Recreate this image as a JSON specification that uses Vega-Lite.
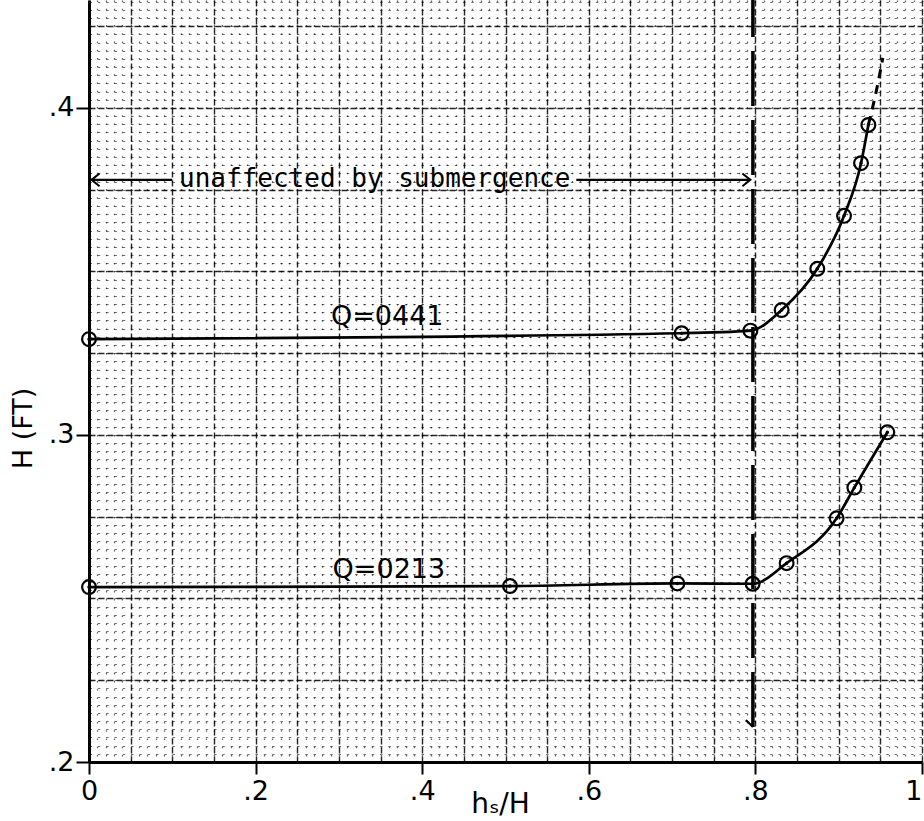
{
  "$schema": "https://vega.github.io/schema/vega-lite/v6.json",
  "width": 833,
  "height": 762,
  "autosize": "none",
  "padding": {"left": 89, "top": 0, "right": 2, "bottom": 59},
  "background": "white",
  "config": {
    "view": {"stroke": null},
    "font": "DejaVu Sans"
  },
  "datasets": {
    "pts": [
      {"Q": "0.441", "x": 0, "y": 0.3293},
      {"Q": "0.441", "x": 0.7115, "y": 0.3311},
      {"Q": "0.441", "x": 0.794, "y": 0.3319},
      {"Q": "0.441", "x": 0.8315, "y": 0.3382},
      {"Q": "0.441", "x": 0.8743, "y": 0.3508},
      {"Q": "0.441", "x": 0.9064, "y": 0.367},
      {"Q": "0.441", "x": 0.9268, "y": 0.3831},
      {"Q": "0.441", "x": 0.9356, "y": 0.3948},
      {"Q": "0.213", "x": 0, "y": 0.2535},
      {"Q": "0.213", "x": 0.5054, "y": 0.2538},
      {"Q": "0.213", "x": 0.7063, "y": 0.2546},
      {"Q": "0.213", "x": 0.7967, "y": 0.2545},
      {"Q": "0.213", "x": 0.8375, "y": 0.2608},
      {"Q": "0.213", "x": 0.8975, "y": 0.2745},
      {"Q": "0.213", "x": 0.9188, "y": 0.2839},
      {"Q": "0.213", "x": 0.9584, "y": 0.3008}
    ],
    "ext": [
      {"x": 0.9356, "y": 0.3948},
      {"x": 0.945, "y": 0.405},
      {"x": 0.953, "y": 0.4153}
    ],
    "labels": [
      {"x": 0.358, "y": 0.3335, "text": "Q=0441"},
      {"x": 0.36, "y": 0.2563, "text": "Q=0213"}
    ]
  },
  "layer": [
    {
      "data": {"name": "pts"},
      "mark": {"type": "point", "opacity": 0},
      "encoding": {
        "x": {"field": "x", "type": "quantitative", "scale": {"domain": [0, 1], "nice": false, "zero": false},
          "axis": {"orient": "bottom", "values": [0,0.01,0.02,0.03,0.04,0.05,0.06,0.07,0.08,0.09,0.1,0.11,0.12,0.13,0.14,0.15,0.16,0.17,0.18,0.19,0.2,0.21,0.22,0.23,0.24,0.25,0.26,0.27,0.28,0.29,0.3,0.31,0.32,0.33,0.34,0.35,0.36,0.37,0.38,0.39,0.4,0.41,0.42,0.43,0.44,0.45,0.46,0.47,0.48,0.49,0.5,0.51,0.52,0.53,0.54,0.55,0.56,0.57,0.58,0.59,0.6,0.61,0.62,0.63,0.64,0.65,0.66,0.67,0.68,0.69,0.7,0.71,0.72,0.73,0.74,0.75,0.76,0.77,0.78,0.79,0.8,0.81,0.82,0.83,0.84,0.85,0.86,0.87,0.88,0.89,0.9,0.91,0.92,0.93,0.94,0.95,0.96,0.97,0.98,0.99,1],
            "grid": true, "gridColor": "#000", "gridOpacity": 0.6, "gridWidth": 1.3, "gridDash": [1.5, 6.7],
            "labels": false, "ticks": false, "domain": false, "title": null}},
        "y": {"field": "y", "type": "quantitative", "scale": {"domain": [0.2, 0.433], "nice": false, "zero": false},
          "axis": {"orient": "left", "values": [0.2,0.2025,0.205,0.2075,0.21,0.2125,0.215,0.2175,0.22,0.2225,0.225,0.2275,0.23,0.2325,0.235,0.2375,0.24,0.2425,0.245,0.2475,0.25,0.2525,0.255,0.2575,0.26,0.2625,0.265,0.2675,0.27,0.2725,0.275,0.2775,0.28,0.2825,0.285,0.2875,0.29,0.2925,0.295,0.2975,0.3,0.3025,0.305,0.3075,0.31,0.3125,0.315,0.3175,0.32,0.3225,0.325,0.3275,0.33,0.3325,0.335,0.3375,0.34,0.3425,0.345,0.3475,0.35,0.3525,0.355,0.3575,0.36,0.3625,0.365,0.3675,0.37,0.3725,0.375,0.3775,0.38,0.3825,0.385,0.3875,0.39,0.3925,0.395,0.3975,0.4,0.4025,0.405,0.4075,0.41,0.4125,0.415,0.4175,0.42,0.4225,0.425,0.4275,0.43,0.4325],
            "grid": true, "gridColor": "#000", "gridOpacity": 0.55, "gridWidth": 1.2, "gridDash": [2.5, 5.8],
            "labels": false, "ticks": false, "domain": false, "title": null}}
      }
    },
    {
      "data": {"name": "pts"},
      "mark": {"type": "point", "opacity": 0},
      "encoding": {
        "x": {"field": "x", "type": "quantitative", "scale": {"domain": [0, 1], "nice": false, "zero": false},
          "axis": {"orient": "bottom", "values": [0.05,0.1,0.15,0.2,0.25,0.3,0.35,0.4,0.45,0.5,0.55,0.6,0.65,0.7,0.75,0.8,0.85,0.9,0.95,1],
            "grid": true, "gridColor": "#000", "gridOpacity": 0.85, "gridWidth": 1.4, "gridDash": [6, 3],
            "labels": false, "ticks": false, "domain": false, "title": null}},
        "y": {"field": "y", "type": "quantitative", "scale": {"domain": [0.2, 0.433], "nice": false, "zero": false},
          "axis": {"orient": "left", "values": [0.225,0.25,0.275,0.3,0.325,0.35,0.375,0.4,0.425],
            "grid": true, "gridColor": "#000", "gridOpacity": 0.85, "gridWidth": 1.4, "gridDash": [6, 3],
            "labels": false, "ticks": false, "domain": false, "title": null}}
      }
    },
    {
      "data": {"name": "pts"},
      "mark": {"type": "line", "interpolate": "monotone", "color": "#000", "strokeWidth": 2.7},
      "encoding": {
        "detail": {"field": "Q", "type": "nominal"},
        "x": {"field": "x", "type": "quantitative", "scale": {"domain": [0, 1], "nice": false, "zero": false},
          "axis": {"orient": "bottom", "values": [0, 0.2, 0.4, 0.6, 0.8, 1],
            "labelExpr": "datum.value == 0 ? '0' : datum.value == 1 ? '1' : '.' + round(datum.value * 10)",
            "labelAlign": {"condition": {"test": "datum.value == 1", "value": "right"}, "value": "center"},
            "grid": false, "domainColor": "#000", "domainWidth": 3, "tickColor": "#000", "tickWidth": 2, "tickSize": 12,
            "labelFont": "DejaVu Sans", "labelFontSize": 27, "labelColor": "#000", "labelPadding": 4,
            "labelFlush": false, "labelOverlap": false,
            "title": "hₛ/H", "titleFont": "DejaVu Sans", "titleFontSize": 28, "titleFontWeight": "normal", "titleColor": "#000",
            "titleX": 411, "titleY": 50, "titleBaseline": "alphabetic", "titleAlign": "center"}},
        "y": {"field": "y", "type": "quantitative", "scale": {"domain": [0.2, 0.433], "nice": false, "zero": false},
          "axis": {"orient": "left", "values": [0.2, 0.3, 0.4],
            "labelExpr": "'.' + round(datum.value * 10)",
            "grid": false, "domainColor": "#000", "domainWidth": 3, "tickColor": "#000", "tickWidth": 2, "tickSize": 13,
            "labelFont": "DejaVu Sans", "labelFontSize": 27, "labelColor": "#000", "labelPadding": 2,
            "labelFlush": false, "labelOverlap": false,
            "title": "H (FT)", "titleFont": "DejaVu Sans", "titleFontSize": 27, "titleFontWeight": "normal", "titleColor": "#000",
            "titleAngle": -90, "titleX": -66, "titleY": 428, "titleBaseline": "middle", "titleAlign": "center"}}
      }
    },
    {
      "data": {"name": "ext"},
      "mark": {"type": "line", "interpolate": "monotone", "color": "#000", "strokeWidth": 3, "strokeDash": [9, 7]},
      "encoding": {
        "x": {"field": "x", "type": "quantitative", "axis": null},
        "y": {"field": "y", "type": "quantitative", "axis": null}
      }
    },
    {
      "data": {"values": [{"x": 0.797, "y": 0.2107, "y2": 0.433}]},
      "mark": {"type": "rule", "color": "#000", "strokeWidth": 3.5, "strokeDash": [55, 14]},
      "encoding": {
        "x": {"field": "x", "type": "quantitative", "axis": null},
        "y": {"field": "y", "type": "quantitative", "axis": null},
        "y2": {"field": "y2"}
      }
    },
    {
      "data": {"values": [{"x": 0.797, "y": 0.2107}]},
      "mark": {"type": "point", "shape": "M0,0 L-1,-1", "filled": false, "color": "#000", "strokeWidth": 2, "size": 196, "opacity": 1},
      "encoding": {
        "x": {"field": "x", "type": "quantitative", "axis": null},
        "y": {"field": "y", "type": "quantitative", "axis": null}
      }
    },
    {
      "data": {"values": [{"x": 0.002, "x2": 0.1, "y": 0.378}, {"x": 0.585, "x2": 0.794, "y": 0.378}]},
      "mark": {"type": "rule", "color": "#000", "strokeWidth": 2.2},
      "encoding": {
        "x": {"field": "x", "type": "quantitative", "axis": null},
        "x2": {"field": "x2"},
        "y": {"field": "y", "type": "quantitative", "axis": null}
      }
    },
    {
      "data": {"values": [{"x": 0.003, "y": 0.378}]},
      "mark": {"type": "point", "shape": "M1,-0.8 L0,0 L1,0.8", "filled": false, "color": "#000", "strokeWidth": 2, "size": 256, "opacity": 1},
      "encoding": {
        "x": {"field": "x", "type": "quantitative", "axis": null},
        "y": {"field": "y", "type": "quantitative", "axis": null}
      }
    },
    {
      "data": {"values": [{"x": 0.794, "y": 0.378}]},
      "mark": {"type": "point", "shape": "M-1,-0.8 L0,0 L-1,0.8", "filled": false, "color": "#000", "strokeWidth": 2, "size": 256, "opacity": 1},
      "encoding": {
        "x": {"field": "x", "type": "quantitative", "axis": null},
        "y": {"field": "y", "type": "quantitative", "axis": null}
      }
    },
    {
      "data": {"values": [{"x": 0.343, "y": 0.3758, "text": "unaffected by submergence"}]},
      "mark": {"type": "text", "font": "DejaVu Sans Mono", "fontSize": 26, "color": "#000", "align": "center", "baseline": "alphabetic"},
      "encoding": {
        "x": {"field": "x", "type": "quantitative", "axis": null},
        "y": {"field": "y", "type": "quantitative", "axis": null},
        "text": {"field": "text"}
      }
    },
    {
      "data": {"name": "labels"},
      "mark": {"type": "text", "font": "DejaVu Sans", "fontSize": 27, "color": "#000", "align": "center", "baseline": "alphabetic"},
      "encoding": {
        "x": {"field": "x", "type": "quantitative", "axis": null},
        "y": {"field": "y", "type": "quantitative", "axis": null},
        "text": {"field": "text"}
      }
    },
    {
      "data": {"name": "pts"},
      "mark": {"type": "point", "shape": "circle", "filled": false, "color": "#000", "strokeWidth": 2.2, "size": 190, "opacity": 1},
      "encoding": {
        "x": {"field": "x", "type": "quantitative", "axis": null},
        "y": {"field": "y", "type": "quantitative", "axis": null}
      }
    },
    {
      "data": {"name": "pts"},
      "mark": {"type": "point", "shape": "circle", "filled": true, "color": "#000", "size": 12, "opacity": 1},
      "encoding": {
        "x": {"field": "x", "type": "quantitative", "axis": null},
        "y": {"field": "y", "type": "quantitative", "axis": null}
      }
    }
  ],
  "resolve": {"axis": {"x": "independent", "y": "independent"}}
}
